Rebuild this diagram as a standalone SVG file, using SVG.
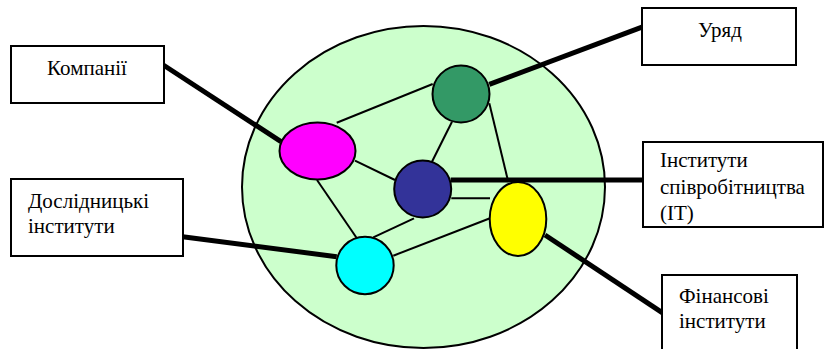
<svg xmlns="http://www.w3.org/2000/svg" width="824" height="349" viewBox="0 0 824 349">
<style>
.box{fill:#fff;stroke:#000;stroke-width:2}
.n{stroke:#000;stroke-width:2}
.thin{stroke:#000;stroke-width:2;fill:none}
.thick{stroke:#000;stroke-width:5;fill:none}
.t{font-family:'Liberation Serif','DejaVu Serif',serif;font-size:21px;fill:#000}
</style>
<rect width="824" height="349" fill="#fff"/>
<g id="cluster"><ellipse cx="423.5" cy="187" rx="181.5" ry="161" fill="#CCFFCC" stroke="#000" stroke-width="2"/></g>
<g id="connectors">
<line class="thin" x1="336.7" y1="122.7" x2="432.7" y2="84"/>
<line class="thin" x1="355" y1="160.7" x2="395" y2="180"/>
<line class="thin" x1="317" y1="180" x2="356.7" y2="238"/>
<line class="thin" x1="452" y1="121.7" x2="431.7" y2="162.3"/>
<line class="thin" x1="489.3" y1="103.3" x2="508.3" y2="182"/>
<line class="thin" x1="451.3" y1="198.3" x2="490" y2="198.3"/>
<line class="thin" x1="414" y1="218.3" x2="373.3" y2="237.3"/>
<line class="thin" x1="393.3" y1="255.7" x2="490" y2="218.3"/>
<line class="thick" x1="163.3" y1="65" x2="281" y2="141.7"/>
<line class="thick" x1="182.7" y1="236.7" x2="336.7" y2="256.7"/>
<line class="thick" x1="643.3" y1="26.7" x2="489.3" y2="84.3"/>
<line class="thick" x1="643.3" y1="180" x2="450.7" y2="180"/>
<line class="thick" x1="663.3" y1="313.3" x2="545" y2="235"/>
</g>
<g id="green"><circle class="n" cx="461" cy="94" r="28.5" fill="#339966"/></g>
<g id="magenta"><ellipse class="n" cx="317.5" cy="151" rx="38" ry="28.5" fill="#FF00FF"/></g>
<g id="navy"><circle class="n" cx="422.7" cy="189" r="28.5" fill="#333399"/></g>
<g id="yellow"><ellipse class="n" cx="518" cy="219" rx="28.3" ry="37" fill="#FFFF00"/></g>
<g id="cyan"><circle class="n" cx="365" cy="265.5" r="28.7" fill="#00FFFF"/></g>
<g id="kompanii"><rect class="box" x="11" y="46" width="153" height="57"/><text class="t" x="87" y="75" text-anchor="middle">Компанії</text></g>
<g id="doslidnytski"><rect class="box" x="11" y="179" width="172" height="77"/><text class="t" x="28" y="208">Дослідницькі</text><text class="t" x="28" y="233">інститути</text></g>
<g id="uriad"><rect class="box" x="642" y="8" width="154" height="57"/><text class="t" x="720" y="37" text-anchor="middle">Уряд</text></g>
<g id="it"><rect class="box" x="643" y="142" width="180" height="85"/><text class="t" x="660" y="167">Інститути</text><text class="t" x="660" y="194">співробітництва</text><text class="t" x="660" y="220">(IT)</text></g>
<g id="finansovi"><rect class="box" x="662" y="275" width="135" height="80"/><text class="t" x="679" y="303">Фінансові</text><text class="t" x="679" y="328">інститути</text></g>
</svg>
